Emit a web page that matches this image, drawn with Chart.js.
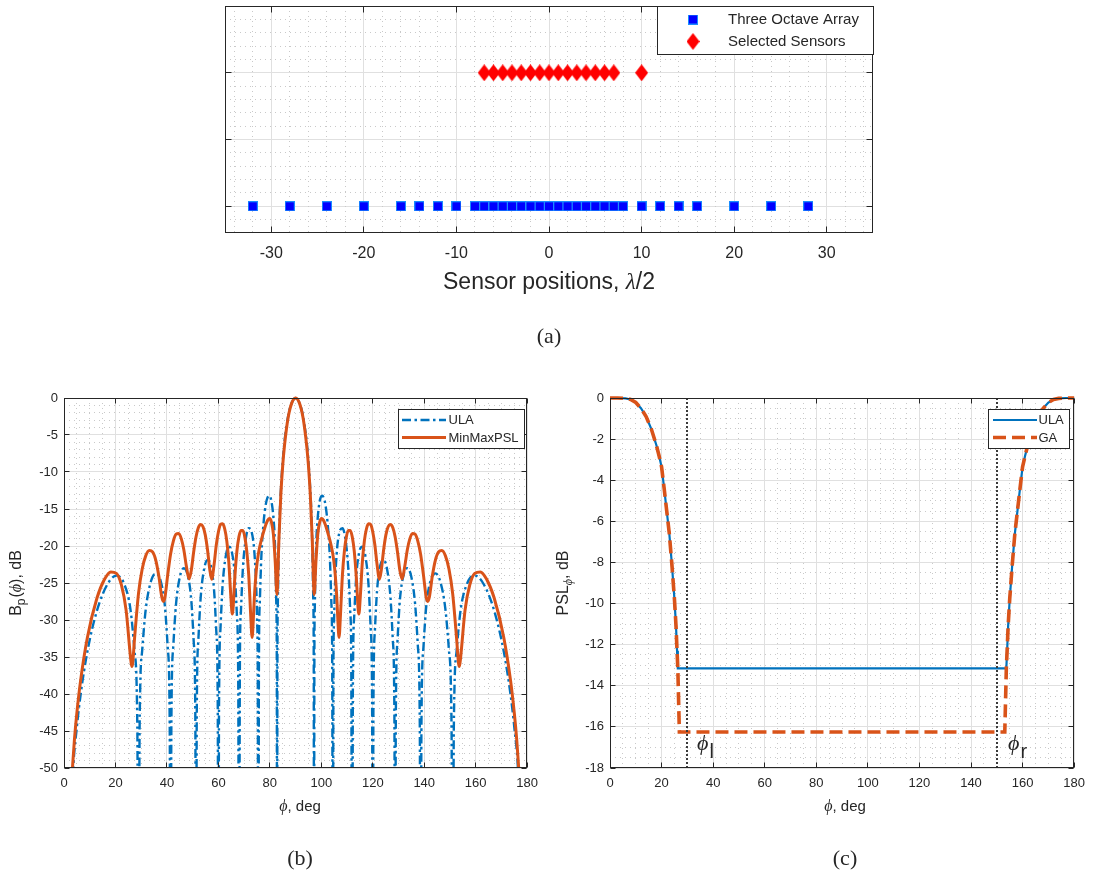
<!DOCTYPE html>
<html>
<head>
<meta charset="utf-8">
<script src="https://cdn.jsdelivr.net/npm/chart.js@4.4.1/dist/chart.umd.min.js"></script>
<style>
html,body{margin:0;padding:0;background:#ffffff;}
body{width:1093px;height:874px;position:relative;overflow:hidden;}
canvas{position:absolute;}
</style>
</head>
<body>
<canvas id="ca" width="1093" height="352" style="left:0px;top:0px;"></canvas>
<canvas id="cb" width="546" height="494" style="left:0px;top:380px;"></canvas>
<canvas id="cc" width="547" height="494" style="left:546px;top:380px;"></canvas>
<script>
// ================= DATA =================
// (a) sensor layout, positions in units of lambda/2
const threeOctavePositions = [-32,-28,-24,-20,-16,-14,-12,-10,-8,-7,-6,-5,-4,-3,-2,-1,0,1,2,3,4,5,6,7,8,10,12,14,16,20,24,28];
const selectedSensorPositions = [-7,-6,-5,-4,-3,-2,-1,0,1,2,3,4,5,6,7,10];
const sensorTicks = [-30,-20,-10,0,10,20,30];
const rowTicks = [0,0.5,1];

// (b) beam patterns, phi in deg, level in dB (below -50 is off the axes)
const ulaPatternPhi = [3.0,3.51,4.96,6.41,9.07,12.84,17.00,20.36,23.24,25.84,27.42,28.50,28.96,29.39,30.39,31.79,33.77,35.66,37.47,39.20,40.31,41.08,41.41,41.73,42.48,43.53,45.07,46.57,48.03,49.46,50.39,51.04,51.32,51.59,52.23,53.13,54.46,55.77,57.06,58.33,59.17,59.75,60.00,60.25,60.82,61.64,62.85,64.06,65.24,66.42,67.20,67.74,67.98,68.38,68.75,69.51,70.66,71.79,72.92,74.04,74.78,75.08,75.29,75.52,75.76,76.11,76.70,77.58,78.46,79.05,79.63,80.21,80.65,81.37,81.95,82.53,82.70,82.82,82.94,83.11,83.68,84.26,85.41,86.56,87.71,88.85,90.00,
91.15,92.29,93.44,94.59,95.74,96.32,96.89,97.06,97.18,97.30,97.47,98.05,98.63,99.35,99.79,100.37,100.95,101.54,102.42,103.30,103.89,104.24,104.48,104.71,104.92,105.22,105.96,107.08,108.21,109.34,110.49,111.25,111.62,112.02,112.26,112.80,113.58,114.76,115.94,117.15,118.36,119.18,119.75,120.00,120.25,120.83,121.67,122.94,124.23,125.54,126.87,127.77,128.41,128.68,128.96,129.61,130.54,131.97,133.43,134.93,136.47,137.52,138.27,138.59,138.92,139.69,140.80,142.53,144.34,146.23,148.21,149.61,150.61,151.04,151.50,152.58,154.16,156.76,159.64,163.00,167.16,170.93,173.59,175.04,176.49,177.00];
const ulaPatternDb = [-56,-50.6,-44.6,-40.2,-34.3,-28.7,-25.1,-24.0,-25.0,-28.6,-34.2,-44.5,-80,-44.4,-34.1,-28.5,-24.8,-23.7,-24.6,-28.1,-33.7,-43.9,-80,-43.9,-33.5,-27.9,-24.1,-23.0,-23.9,-27.3,-32.8,-43.0,-80,-43.0,-32.6,-26.9,-23.1,-21.9,-22.6,-26.0,-31.4,-41.6,-80,-41.6,-31.1,-25.3,-21.4,-20.1,-20.8,-24.1,-29.4,-39.6,-80,-34.6,-28.9,-23.1,-19.0,-17.6,-18.1,-21.1,-26.3,-30.5,-35.8,-80,-35.6,-27.5,-21.4,-16.8,-14.3,-13.5,-13.2,-13.4,-14.0,-16.1,-19.5,-28.3,-36.0,-80,-35.7,-27.6,-17.5,-12.6,-6.9,-3.6,-1.5,-0.4,0,
-0.4,-1.5,-3.6,-6.9,-12.6,-17.5,-27.6,-35.7,-80,-36.0,-28.3,-19.5,-16.1,-14.0,-13.4,-13.2,-13.5,-14.3,-16.8,-21.4,-27.5,-35.6,-80,-35.8,-30.5,-26.3,-21.1,-18.1,-17.6,-19.0,-23.1,-28.9,-34.6,-80,-39.6,-29.4,-24.1,-20.8,-20.1,-21.4,-25.3,-31.1,-41.6,-80,-41.6,-31.4,-26.0,-22.6,-21.9,-23.1,-26.9,-32.6,-43.0,-80,-43.0,-32.8,-27.3,-23.9,-23.0,-24.1,-27.9,-33.5,-43.9,-80,-43.9,-33.7,-28.1,-24.6,-23.7,-24.8,-28.5,-34.1,-44.4,-80,-44.5,-34.2,-28.6,-25.0,-24.0,-25.1,-28.7,-34.3,-40.2,-44.6,-50.6,-56];

const minMaxPhi = [2.86,4.05,4.96,6.41,9.07,12.84,15.74,18.19,20.36,22.33,24.15,25.84,26.33,26.66,27.44,28.96,30.39,31.79,33.14,34.43,35.66,36.87,38.00,38.63,39.20,40.31,41.41,42.52,43.55,44.57,45.57,46.57,47.54,48.60,49.46,50.39,51.32,52.23,53.13,54.03,54.90,55.77,56.63,57.40,58.33,59.17,60.00,60.82,61.64,62.47,63.26,64.06,64.84,65.40,65.64,66.42,67.20,67.98,68.75,69.51,70.28,71.03,71.79,72.54,73.10,73.29,74.04,74.79,75.52,76.26,76.99,77.73,78.46,79.19,79.92,80.65,81.37,82.10,82.75,83.54,84.26,84.98,85.70,86.42,87.13,87.85,88.57,89.28,90.00,
90.72,91.43,92.15,92.87,93.58,94.30,95.02,95.74,96.46,97.25,97.90,98.63,99.35,100.08,100.81,101.54,102.27,103.01,103.74,104.48,105.21,105.96,106.71,106.90,107.46,108.21,108.97,109.72,110.49,111.25,112.02,112.80,113.58,114.36,114.60,115.16,115.94,116.74,117.53,118.36,119.18,120.00,120.83,121.67,122.60,123.37,124.23,125.10,125.97,126.87,127.77,128.68,129.61,130.54,131.40,132.46,133.43,134.43,135.43,136.45,137.48,138.59,139.69,140.80,141.37,142.00,143.13,144.34,145.57,146.86,148.21,149.61,151.04,152.56,153.34,153.67,154.16,155.85,157.67,159.64,161.81,164.26,167.16,170.93,173.59,175.04,175.95,177.14];
const minMaxDb = [-52.2,-46.2,-42.7,-38.3,-32.4,-27.0,-24.5,-23.5,-23.7,-25.3,-28.7,-35.0,-36.3,-35.9,-32.4,-26.4,-23.1,-21.3,-20.6,-20.8,-21.9,-24.1,-26.9,-27.5,-27.0,-23.9,-21.1,-19.3,-18.4,-18.3,-19.0,-20.5,-22.7,-24.45,-23.3,-20.8,-18.75,-17.5,-17.1,-17.4,-18.5,-20.5,-23.1,-24.5,-22.5,-19.9,-18.1,-17.1,-17.0,-17.7,-19.3,-22.2,-26.8,-29.2,-28.7,-24.1,-20.7,-18.75,-17.9,-17.9,-18.8,-20.7,-23.9,-29.2,-32.35,-31.8,-26.6,-23.1,-21.1,-19.8,-18.8,-17.9,-17.1,-16.5,-16.3,-16.8,-18.4,-22.2,-26.55,-19.0,-13.15,-9.2,-6.4,-4.25,-2.6,-1.45,-0.63,-0.16,0,
-0.16,-0.63,-1.45,-2.6,-4.25,-6.4,-9.2,-13.15,-19.0,-26.55,-22.2,-18.4,-16.8,-16.3,-16.5,-17.1,-17.9,-18.8,-19.8,-21.1,-23.1,-26.6,-31.8,-32.35,-29.2,-23.9,-20.7,-18.8,-17.9,-17.9,-18.75,-20.7,-24.1,-28.7,-29.2,-26.8,-22.2,-19.3,-17.7,-17.0,-17.1,-18.1,-19.9,-22.5,-24.5,-23.1,-20.5,-18.5,-17.4,-17.1,-17.5,-18.75,-20.8,-23.3,-24.45,-22.7,-20.5,-19.0,-18.3,-18.4,-19.3,-21.1,-23.9,-27.0,-27.5,-26.9,-24.1,-21.9,-20.8,-20.6,-21.3,-23.1,-26.4,-32.4,-35.9,-36.3,-35.0,-28.7,-25.3,-23.7,-23.5,-24.5,-27.0,-32.4,-38.3,-42.7,-46.2,-52.2];

// (c) PSL versus phi
const ulaPslPhi = [0,3,6,8,10,12,14,16,18,19,20,21,22,23,24,25,25.6,26,26.3,153.7,154,154.4,155,156,157,158,159,160,161,162,164,166,168,170,172,174,177,180];
const ulaPslDb  = [0,0,-0.02,-0.07,-0.22,-0.5,-0.9,-1.5,-2.3,-2.8,-3.35,-4.4,-5.5,-6.6,-8.1,-9.8,-11.1,-12.3,-13.15,-13.15,-12.3,-11.1,-9.8,-8.1,-6.6,-5.5,-4.4,-3.35,-2.8,-2.3,-1.5,-0.9,-0.5,-0.22,-0.07,-0.02,0,0];
const gaPslPhi  = [0,3,6,8,10,12,14,16,18,19,20,21,22,23,24,25,25.6,26,26.3,26.9,153.1,153.7,154,154.4,155,156,157,158,159,160,161,162,164,166,168,170,172,174,177,180];
const gaPslDb   = [0,0,-0.02,-0.07,-0.22,-0.5,-0.9,-1.5,-2.3,-2.8,-3.35,-4.4,-5.5,-6.6,-8.1,-9.8,-11.1,-12.3,-13.15,-16.25,-16.25,-13.15,-12.3,-11.1,-9.8,-8.1,-6.6,-5.5,-4.4,-3.35,-2.8,-2.3,-1.5,-0.9,-0.5,-0.22,-0.07,-0.02,0,0];
const phiBounds = [30, 150];

const phiTicks = [0,20,40,60,80,100,120,140,160,180];
const bpTicks = [-50,-45,-40,-35,-30,-25,-20,-15,-10,-5,0];
const pslTicks = [-18,-16,-14,-12,-10,-8,-6,-4,-2,0];

// ================= STYLE / HELPERS =================
const TXT = '#262626';
const SANS = '"Liberation Sans", Arial, Helvetica, sans-serif';
const SERIF = '"Liberation Serif", "DejaVu Serif", "Times New Roman", serif';
const BLUE = '#0072BD', ORANGE = '#D95319';
const GRID = '#e0e0e0', MINOR = '#c9c9c9';
const PHI = '\u03D5';

function pts(xs, ys) { return xs.map((x, i) => ({x: x, y: ys[i]})); }
function al(v) { return Math.floor(v) + 0.5; }

function runs(ctx, list, x, y, rot, align) {
  ctx.save();
  ctx.translate(x, y);
  if (rot) ctx.rotate(rot);
  let w = 0;
  list.forEach(r => { ctx.font = r.f; w += ctx.measureText(r.t).width + (r.dx || 0); });
  let cx = align === 'left' ? 0 : -w / 2;
  ctx.fillStyle = TXT; ctx.textBaseline = 'alphabetic'; ctx.textAlign = 'left';
  list.forEach(r => { ctx.font = r.f; cx += (r.dx || 0); ctx.fillText(r.t, cx, r.dy || 0); cx += ctx.measureText(r.t).width; });
  ctx.restore();
}

function makeSquare() {
  const c = document.createElement('canvas'); c.width = 10; c.height = 10;
  const g = c.getContext('2d');
  g.fillStyle = '#0000ff'; g.fillRect(0, 0, 10, 10);
  g.strokeStyle = '#1a8cff'; g.lineWidth = 1; g.strokeRect(0.5, 0.5, 9, 9);
  return c;
}
function makeDiamond() {
  const c = document.createElement('canvas'); c.width = 13; c.height = 17;
  const g = c.getContext('2d');
  g.fillStyle = '#ff0000';
  g.beginPath(); g.moveTo(6.5, 0); g.lineTo(13, 8.5); g.lineTo(6.5, 17); g.lineTo(0, 8.5); g.closePath(); g.fill();
  return c;
}
const SQ = makeSquare(), DI = makeDiamond();

function range(a, b, step, skipEvery) {
  const out = [];
  for (let i = Math.round(a / step); i * step <= b + 1e-9; i++) {
    const v = +(i * step).toFixed(6);
    if (skipEvery && Math.abs(v / skipEvery - Math.round(v / skipEvery)) < 1e-6) continue;
    out.push(v);
  }
  return out;
}

function decoPlugin(cfg) {
  return {
    id: 'deco',
    beforeDatasetsDraw(chart) {
      const ctx = chart.ctx, a = chart.chartArea, x = chart.scales.x, y = chart.scales.y;
      ctx.save();
      ctx.beginPath(); ctx.rect(a.left, a.top, a.right - a.left, a.bottom - a.top); ctx.clip();
      ctx.strokeStyle = MINOR; ctx.lineWidth = 1; ctx.setLineDash([1, 4]);
      cfg.xMinor.forEach(v => { const p = al(x.getPixelForValue(v)); ctx.beginPath(); ctx.moveTo(p, a.top); ctx.lineTo(p, a.bottom); ctx.stroke(); });
      cfg.yMinor.forEach(v => { const p = al(y.getPixelForValue(v)); ctx.beginPath(); ctx.moveTo(a.left, p); ctx.lineTo(a.right, p); ctx.stroke(); });
      ctx.restore();
    },
    afterDatasetsDraw(chart) {
      const ctx = chart.ctx, a = chart.chartArea, x = chart.scales.x, y = chart.scales.y;
      ctx.save();
      if (cfg.vlines) {
        ctx.strokeStyle = '#3a3a3a'; ctx.lineWidth = 2; ctx.setLineDash([2, 2]);
        cfg.vlines.forEach(v => { const p = Math.round(x.getPixelForValue(v)); ctx.beginPath(); ctx.moveTo(p, a.top); ctx.lineTo(p, a.bottom); ctx.stroke(); });
        ctx.setLineDash([]);
      }
      // frame
      const L = al(a.left), R = al(a.right - 1), T = al(a.top), B = al(a.bottom - 1);
      ctx.strokeStyle = TXT; ctx.lineWidth = 1;
      ctx.strokeRect(L, T, R - L, B - T);
      const tl = cfg.tickLen;
      ctx.beginPath();
      cfg.xTicks.forEach(v => { const p = al(x.getPixelForValue(v)); ctx.moveTo(p, B); ctx.lineTo(p, B - tl); ctx.moveTo(p, T); ctx.lineTo(p, T + tl); });
      cfg.yTicks.forEach(v => { const p = al(y.getPixelForValue(v)); ctx.moveTo(L, p); ctx.lineTo(L + tl, p); ctx.moveTo(R, p); ctx.lineTo(R - tl, p); });
      ctx.stroke();
      // legend
      if (cfg.legend) {
        const lg = cfg.legend;
        ctx.fillStyle = '#ffffff';
        ctx.fillRect(lg.box[0], lg.box[1], lg.box[2] - lg.box[0], lg.box[3] - lg.box[1]);
        ctx.strokeStyle = TXT; ctx.lineWidth = 1;
        ctx.strokeRect(al(lg.box[0]), al(lg.box[1]), Math.round(lg.box[2] - lg.box[0]), Math.round(lg.box[3] - lg.box[1]));
        lg.items.forEach(it => {
          if (it.img) {
            ctx.drawImage(it.img, lg.sx - it.img.width / 2, it.y - it.img.height / 2);
          } else {
            ctx.strokeStyle = it.color; ctx.lineWidth = it.width; ctx.setLineDash(it.dash || []);
            ctx.beginPath(); ctx.moveTo(lg.sx0, it.y); ctx.lineTo(lg.sx1, it.y); ctx.stroke();
            ctx.setLineDash([]);
          }
          ctx.fillStyle = TXT; ctx.font = lg.font; ctx.textBaseline = 'middle'; ctx.textAlign = 'left';
          ctx.fillText(it.label, lg.tx, it.y + 0.5);
        });
      }
      ctx.restore();
    },
    afterDraw(chart) {
      if (cfg.texts) cfg.texts(chart.ctx, chart);
    }
  };
}

function fixTicks(list) { return s => { s.ticks = list.map(v => ({value: v})); }; }

// ================= CHART (a) =================
new Chart(document.getElementById('ca'), {
  type: 'scatter',
  data: {
    datasets: [
      {label: 'Three Octave Array', data: threeOctavePositions.map(p => ({x: p, y: 0})), pointStyle: SQ, pointRadius: 5, pointHoverRadius: 5, showLine: false},
      {label: 'Selected Sensors', data: selectedSensorPositions.map(p => ({x: p, y: 1})), pointStyle: DI, pointRadius: 5, pointHoverRadius: 5, showLine: false}
    ]
  },
  options: {
    responsive: false, animation: false, events: [], devicePixelRatio: 1,
    layout: {padding: {left: 225, right: 220, top: 6, bottom: 79}},
    plugins: {legend: {display: false}, tooltip: {enabled: false}},
    scales: {
      x: {type: 'linear', min: -35, max: 35, afterBuildTicks: fixTicks(sensorTicks), afterFit: s => { s.height = 40; },
          grid: {color: GRID, drawTicks: false}, border: {display: false},
          ticks: {color: TXT, font: {family: SANS, size: 16}, padding: 11, callback: v => String(v)}},
      y: {type: 'linear', min: -0.2, max: 1.5, afterBuildTicks: fixTicks(rowTicks), afterFit: s => { s.width = 0; },
          grid: {color: GRID, drawTicks: false}, border: {display: false}, ticks: {display: false}}
    }
  },
  plugins: [decoPlugin({
    xMinor: range(-34, 34, 2, 10), yMinor: range(-0.1, 1.4, 0.1, 0.5),
    xTicks: sensorTicks, yTicks: rowTicks, tickLen: 6,
    legend: {box: [657, 6, 873, 54], sx: 693, tx: 728, font: '15px ' + SANS,
      items: [{img: SQ, y: 19.5, label: 'Three Octave Array'}, {img: DI, y: 41.5, label: 'Selected Sensors'}]},
    texts: (ctx) => {
      runs(ctx, [{t: 'Sensor positions, ', f: '23px ' + SANS}, {t: 'λ', f: 'italic 23px ' + SERIF}, {t: '/2', f: '23px ' + SANS}], 549, 289, 0);
      runs(ctx, [{t: '(a)', f: '22px ' + SERIF}], 549, 343, 0);
    }
  })]
});

// ================= CHARTS (b) and (c) =================
function lineOptions(yMin, yMax, yTicks, padRight) {
  return {
    responsive: false, animation: false, events: [], devicePixelRatio: 1,
    layout: {padding: {left: 0, right: padRight, top: 18, bottom: 76}},
    plugins: {legend: {display: false}, tooltip: {enabled: false}},
    elements: {point: {radius: 0, hoverRadius: 0}},
    scales: {
      x: {type: 'linear', min: 0, max: 180, afterBuildTicks: fixTicks(phiTicks), afterFit: s => { s.height = 30; },
          grid: {color: GRID, drawTicks: false}, border: {display: false},
          ticks: {color: TXT, font: {family: SANS, size: 13}, padding: 8, maxRotation: 0, callback: v => String(v)}},
      y: {type: 'linear', min: yMin, max: yMax, afterBuildTicks: fixTicks(yTicks), afterFit: s => { s.width = 64; },
          grid: {color: GRID, drawTicks: false}, border: {display: false},
          ticks: {color: TXT, font: {family: SANS, size: 13}, padding: 6, callback: v => String(v)}}
    }
  };
}

const bOpts = lineOptions(-50, 0, bpTicks, 10);
new Chart(document.getElementById('cb'), {
  type: 'scatter',
  data: {
    datasets: [
      {label: 'ULA', data: pts(ulaPatternPhi, ulaPatternDb), showLine: true, borderColor: BLUE, borderWidth: 2.4,
       borderDash: [9, 3.5, 2.5, 3.5], cubicInterpolationMode: 'monotone', order: 1, clip: {left: 0, top: 3, right: 0, bottom: 0}},
      {label: 'MinMaxPSL', data: pts(minMaxPhi, minMaxDb), showLine: true, borderColor: ORANGE, borderWidth: 3,
       cubicInterpolationMode: 'monotone', order: 0, clip: {left: 0, top: 3, right: 0, bottom: 0}}
    ]
  },
  options: bOpts,
  plugins: [decoPlugin({
    xMinor: range(5, 175, 5, 20), yMinor: range(-49, -1, 1, 5),
    xTicks: phiTicks, yTicks: bpTicks, tickLen: 5,
    legend: {box: [398, 29, 524, 68], sx0: 402, sx1: 446, tx: 448.5, font: '13px ' + SANS,
      items: [{color: BLUE, width: 2.4, dash: [9, 3.5, 2.5, 3.5], y: 40, label: 'ULA'},
              {color: ORANGE, width: 3, y: 57.5, label: 'MinMaxPSL'}]},
    texts: (ctx) => {
      runs(ctx, [{t: 'B', f: '16px ' + SANS}, {t: 'p', f: '12px ' + SANS, dy: 4}, {t: '(', f: '16px ' + SANS, dx: 1}, {t: PHI, f: 'italic 16px ' + SERIF},
                 {t: '), dB', f: '16px ' + SANS}], 21, 203, -Math.PI / 2);
      runs(ctx, [{t: PHI, f: 'italic 16px ' + SERIF}, {t: ', deg', f: '15px ' + SANS}], 300, 431, 0);
      runs(ctx, [{t: '(b)', f: '22px ' + SERIF}], 300, 485, 0);
    }
  })]
});

const cOpts = lineOptions(-18, 0, pslTicks, 12);
new Chart(document.getElementById('cc'), {
  type: 'scatter',
  data: {
    datasets: [
      {label: 'ULA', data: pts(ulaPslPhi, ulaPslDb), showLine: true, borderColor: BLUE, borderWidth: 2.2,
       order: 1, clip: {left: 3, top: 3, right: 3, bottom: 0}},
      {label: 'GA', data: pts(gaPslPhi, gaPslDb), showLine: true, borderColor: ORANGE, borderWidth: 3.6,
       borderDash: [13, 6], order: 0, clip: {left: 3, top: 3, right: 3, bottom: 0}}
    ]
  },
  options: cOpts,
  plugins: [decoPlugin({
    xMinor: range(5, 175, 5, 20), yMinor: range(-17.5, -0.5, 0.5, 2),
    xTicks: phiTicks, yTicks: pslTicks, tickLen: 5, vlines: phiBounds,
    legend: {box: [442, 29, 523, 68], sx0: 447, sx1: 491, tx: 492.5, font: '13px ' + SANS,
      items: [{color: BLUE, width: 2.2, y: 40, label: 'ULA'},
              {color: ORANGE, width: 3.6, dash: [13, 6], y: 57.5, label: 'GA'}]},
    texts: (ctx) => {
      runs(ctx, [{t: 'PSL', f: '16px ' + SANS}, {t: PHI, f: 'italic 12px ' + SERIF, dy: 4}, {t: ', dB', f: '16px ' + SANS}], 22, 203, -Math.PI / 2);
      runs(ctx, [{t: PHI, f: 'italic 16px ' + SERIF}, {t: ', deg', f: '15px ' + SANS}], 299, 431, 0);
      runs(ctx, [{t: '(c)', f: '22px ' + SERIF}], 299, 485, 0);
      runs(ctx, [{t: PHI, f: 'italic 22px ' + SERIF}, {t: 'l', f: '20px ' + SANS, dy: 8, dx: 1}], 151, 370, 0, 'left');
      runs(ctx, [{t: PHI, f: 'italic 22px ' + SERIF}, {t: 'r', f: '20px ' + SANS, dy: 8, dx: 1}], 462, 370, 0, 'left');
    }
  })]
});
</script>
</body>
</html>
